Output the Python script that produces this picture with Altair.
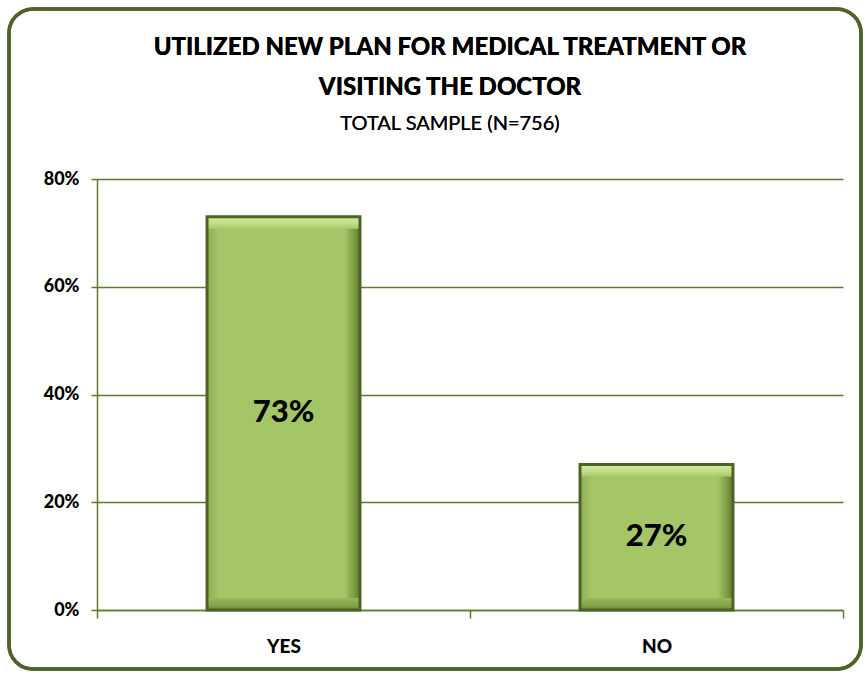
import altair as alt
import pandas as pd

categories = ["Yes", "No"]
values = [0.73, 0.27]
title_lines = ["UTILIZED NEW PLAN FOR MEDICAL TREATMENT OR", "VISITING THE DOCTOR"]
subtitle = "TOTAL SAMPLE (N=756)"
y_ticks = [0, 0.2, 0.4, 0.6, 0.8]

df = pd.DataFrame({"answer": categories, "share": values})

FONT = "Lato"
HEAVY = 900
GREEN_DARK = "#4F6228"
GRID = "#5E7B2B"

W, H = 746, 431
BW = alt.RelativeBandSize(0.41)

xenc = alt.X("answer:N", sort=categories,
             scale=alt.Scale(paddingInner=0, paddingOuter=0),
             axis=alt.Axis(title=None, labelExpr="upper(datum.label)", labelAngle=0,
                           labelFont=FONT, labelFontSize=19, labelFontWeight=HEAVY,
                           labelColor="#000000", labelPadding=19, tickBand="extent",
                           tickSize=8, tickColor=GRID, tickWidth=1.5,
                           domainColor=GRID, domainWidth=1.5, grid=False))
yenc = alt.Y("share:Q", scale=alt.Scale(domain=[0, 0.8], nice=False),
             axis=alt.Axis(title=None, values=y_ticks, format=".0%",
                           labelFont=FONT, labelFontSize=18, labelFontWeight=HEAVY,
                           labelColor="#000000", labelPadding=12,
                           tickSize=6, tickColor=GRID, tickWidth=1.5,
                           domainColor=GRID, domainWidth=1.5,
                           grid=True, gridColor=GRID, gridWidth=1.5))

base = alt.Chart(df).transform_calculate(zero="0", mid="datum.share / 2")

border = base.mark_rect(fill=None, stroke=GREEN_DARK, strokeWidth=3.5,
                        cornerRadius=24).encode(
    x=alt.value(-88), x2=alt.value(764), y=alt.value(-170), y2=alt.value(490))

side = alt.Gradient(gradient="linear", x1=0, x2=1, y1=0, y2=0, stops=[
    alt.GradientStop(color="#8EAE52", offset=0),
    alt.GradientStop(color="#A5C666", offset=0.08),
    alt.GradientStop(color="#A5C666", offset=0.9),
    alt.GradientStop(color="#7E9C45", offset=0.96),
    alt.GradientStop(color="#5F7A30", offset=1),
])

bars = base.mark_bar(width=BW, fill=side).encode(x=xenc, y=yenc)

top_bevel = base.mark_bar(width=BW, y2Offset=12, fill=alt.Gradient(
    gradient="linear", x1=0, x2=0, y1=0, y2=1, stops=[
        alt.GradientStop(color="#D6ECA4", offset=0),
        alt.GradientStop(color="#C0DB84", offset=0.6),
        alt.GradientStop(color="#A8C96A", offset=1)])).encode(
    x=alt.X("answer:N", sort=categories), y=alt.Y("share:Q"), y2=alt.Y2("share"))

bot_bevel = base.mark_bar(width=BW, yOffset=-12, fill=alt.Gradient(
    gradient="linear", x1=0, x2=0, y1=0, y2=1, stops=[
        alt.GradientStop(color="#98B85A", offset=0),
        alt.GradientStop(color="#84A34A", offset=0.6),
        alt.GradientStop(color="#6C8838", offset=1)])).encode(
    x=alt.X("answer:N", sort=categories), y=alt.Y("zero:Q"), y2=alt.Y2("zero"))

outline = base.mark_bar(width=BW, fill=None, stroke=GREEN_DARK, strokeWidth=3).encode(
    x=alt.X("answer:N", sort=categories), y=alt.Y("share:Q"))

labels = base.mark_text(
    font=FONT, fontSize=31, fontWeight=HEAVY, color="#000000", baseline="middle"
).encode(x=alt.X("answer:N", sort=categories), y=alt.Y("mid:Q"),
         text=alt.Text("share:Q", format=".0%"))

t1 = base.mark_text(font=FONT, fontSize=24, fontWeight=HEAVY, color="#000000",
                    baseline="middle", align="center").encode(
    x=alt.value(353), y=alt.value(-131), text=alt.value(title_lines[0]))
t2 = base.mark_text(font=FONT, fontSize=24, fontWeight=HEAVY, color="#000000",
                    baseline="middle", align="center").encode(
    x=alt.value(353), y=alt.value(-91), text=alt.value(title_lines[1]))
t3 = base.mark_text(font=FONT, fontSize=20, color="#000000",
                    baseline="middle", align="center").encode(
    x=alt.value(353), y=alt.value(-55), text=alt.value(subtitle))

chart = alt.layer(border, bars, top_bevel, bot_bevel, outline, labels, t1, t2, t3).properties(
    width=W, height=H,
    autosize=alt.AutoSizeParams(type="none"),
    padding={"left": 97, "top": 179, "right": 22, "bottom": 64},
    background="white",
).configure_view(stroke=None)

chart.save("out.html", embed_options={"renderer": "svg", "actions": False})
